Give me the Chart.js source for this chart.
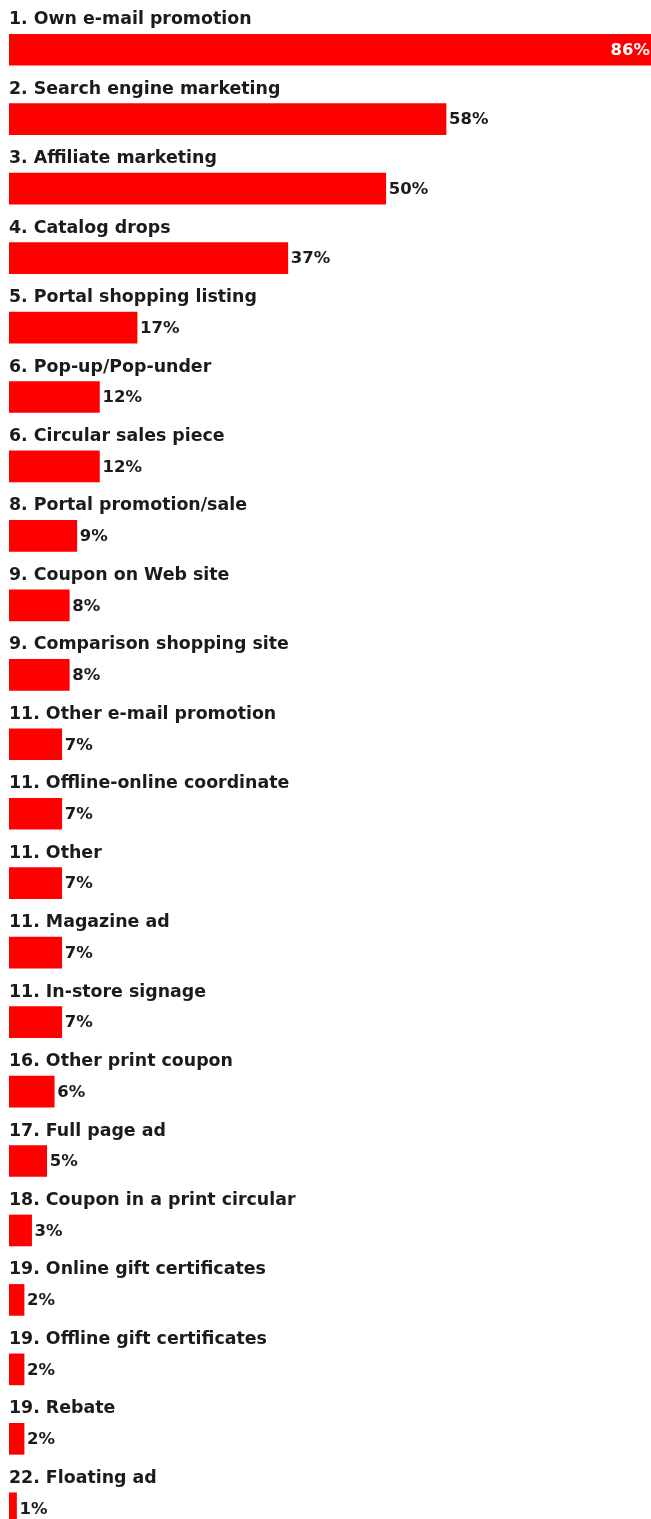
<html>

<head>
  <title>Promotions</title>
  <style>
    html, body {
      margin: 0;
      padding: 0;
      background: #ffffff;
      overflow: hidden;
    }
    #wrap {
      width: 651px;
      height: 1545px;
    }
  </style>
</head>

<body>
  <div id="wrap"><canvas id="myChart"></canvas></div>
  <script src="https://cdn.jsdelivr.net/npm/chart.js"></script>
  <script>

    var categories = [
      '1. Own e-mail promotion',
      '2. Search engine marketing',
      '3. Affiliate marketing',
      '4. Catalog drops',
      '5. Portal shopping listing',
      '6. Pop-up/Pop-under',
      '6. Circular sales piece',
      '8. Portal promotion/sale',
      '9. Coupon on Web site',
      '9. Comparison shopping site',
      '11. Other e-mail promotion',
      '11. Offline-online coordinate',
      '11. Other',
      '11. Magazine ad',
      '11. In-store signage',
      '16. Other print coupon',
      '17. Full page ad',
      '18. Coupon in a print circular',
      '19. Online gift certificates',
      '19. Offline gift certificates',
      '19. Rebate',
      '22. Floating ad'
    ];
    var values = [86, 58, 50, 37, 17, 12, 12, 9, 8, 8, 7, 7, 7, 7, 7, 6, 5, 3, 2, 2, 2, 1];

    // labels above each bar + value next to it
    var rowLabels = {
      id: 'rowLabels',
      afterDatasetsDraw: function (chart) {
        var ctx = chart.ctx;
        var meta = chart.getDatasetMeta(0);
        ctx.save();
        ctx.textBaseline = 'middle';
        meta.data.forEach(function (bar, i) {
          ctx.font = 'bold 17.4px "DejaVu Sans", sans-serif';
          ctx.fillStyle = '#1b1b1b';
          ctx.textAlign = 'left';
          ctx.fillText(categories[i], bar.base, bar.y - 30);

          ctx.font = 'bold 16.5px "DejaVu Sans", sans-serif';
          var txt = values[i] + '%';
          if (bar.x > chart.chartArea.right - 40) {
            ctx.fillStyle = '#ffffff';
            ctx.textAlign = 'right';
            ctx.fillText(txt, chart.chartArea.right - 1, bar.y + 1);
          } else {
            ctx.fillStyle = '#1b1b1b';
            ctx.textAlign = 'left';
            ctx.fillText(txt, bar.x + 3, bar.y + 1);
          }
        });
        ctx.restore();
      }
    };

    var myChart = new Chart(document.getElementById('myChart'), {
      type: 'bar',
      data: {
        labels: categories,
        datasets: [{
          data: values,
          backgroundColor: '#ff0000',
          barThickness: 31,
          borderWidth: 0
        }]
      },
      options: {
        indexAxis: 'y',
        responsive: true,
        maintainAspectRatio: false,
        animation: false,
        layout: { padding: { top: 15, bottom: 2, left: 9, right: 0 } },
        scales: {
          x: { display: false, min: 0, max: 85.2 },
          y: { display: false }
        },
        plugins: {
          legend: { display: false },
          tooltip: { enabled: false }
        }
      },
      plugins: [rowLabels]
    });

  </script>
</body>

</html>
